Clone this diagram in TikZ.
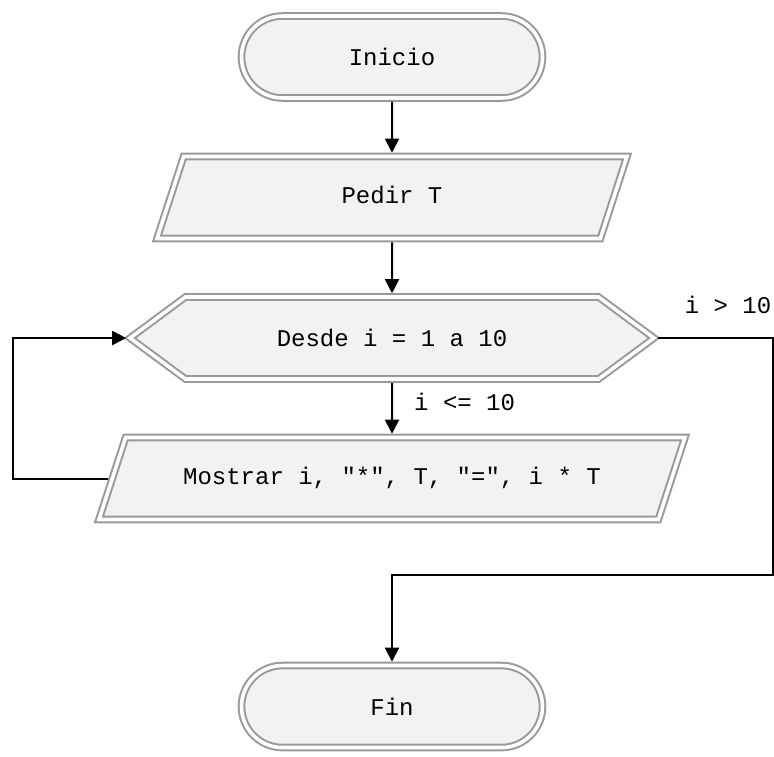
\documentclass[tikz,border=0pt]{standalone}
\usepackage{fontspec}
\setmonofont{Liberation Mono}
\usepackage{tikz}
\usetikzlibrary{shapes.geometric, shapes.misc, shapes.symbols, arrows.meta, positioning, calc}
\definecolor{boxfill}{RGB}{242,242,242}
\definecolor{boxline}{RGB}{153,153,153}

\begin{document}
\begin{tikzpicture}[
    node distance=58.5pt,
    base/.style={draw=boxline, line width=2pt, double=white, double distance=3.6pt, fill=boxfill, font=\ttfamily\fontsize{24}{28}\selectfont, inner sep=0pt, outer sep=0pt, minimum height=82pt},
    term/.style={base, rounded rectangle, minimum width=301pt},
    io/.style={base, trapezium, trapezium left angle=72, trapezium right angle=108, trapezium stretches body, text height=17pt, text depth=5pt, inner ysep=30pt},
    loopbox/.style={base, signal, signal to=west and east, signal pointer angle=73, minimum width=524pt},
    arrow/.style={-{Triangle[length=14pt,width=14pt]}, line width=2pt, shorten >=3.8pt, shorten <=3.8pt},
    lbl/.style={font=\ttfamily\fontsize{24}{28}\selectfont, inner sep=0pt}
]
\useasboundingbox (0,0) rectangle (774pt,-756pt);

% Flow
\node[term] (inicio) at (392pt,-57pt) {Inicio};
\node[io, minimum width=470pt, below=of inicio] (pedir) {Pedir T};
\node[loopbox, below=of pedir] (desde) {Desde i = 1 a 10};
\node[io, minimum width=586pt, below=of desde] (mostrar) {Mostrar i, "*", T, "=", i * T};
\node[term, below=146pt of mostrar] (fin) {Fin};

% Route points
\coordinate[right=118.5pt of desde.east] (exit);
\coordinate[above=90.5pt of fin.north] (join);

% Labels
\node[lbl, anchor=west] (menor) at ($(desde.south)!0.5!(mostrar.north)+(22pt,6pt)$) {i <= 10};
\node[lbl, anchor=east] (mayor) at ($(exit)+(-1pt,33pt)$) {i > 10};

% Arrows
\draw[arrow] (inicio) -- (pedir);
\draw[arrow] (pedir) -- (desde);
\draw[arrow] (desde) -- (mostrar);
\draw[arrow] (mostrar.left side) -- ++(-99.5pt,0) |- (desde.west);
\draw[arrow] (desde.east) -- (exit) |- (join) -- (fin.north);

\end{tikzpicture}
\end{document}
